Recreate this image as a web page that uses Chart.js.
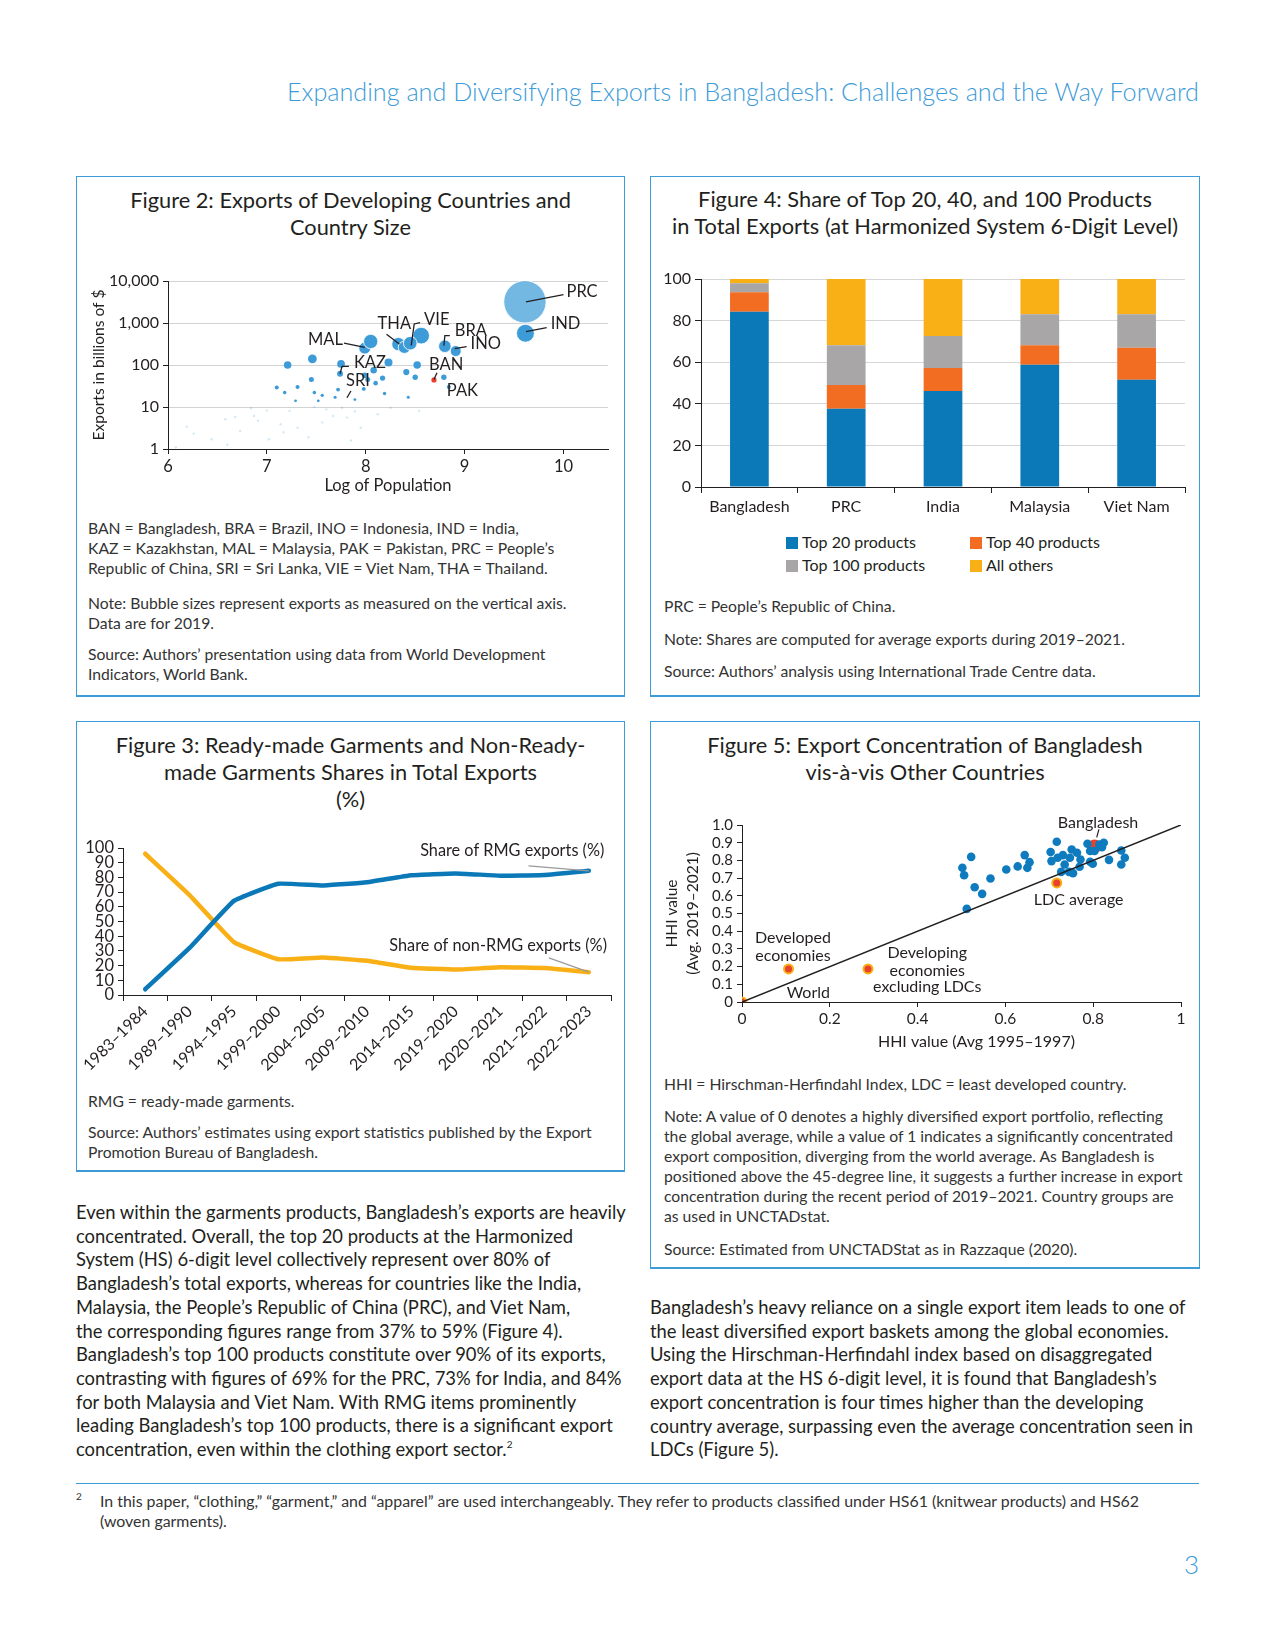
<!DOCTYPE html>
<html>
<head>
<meta charset="utf-8">
<script src="https://cdn.jsdelivr.net/npm/chart.js@4.4.1/dist/chart.umd.min.js"></script>
<style>
  body { margin: 0; background: #fff; }
  #page { position: relative; width: 1275px; height: 1650px; overflow: hidden; font-family: Lato, "Noto Sans", sans-serif; color: #231f20; }
  .box { position: absolute; box-sizing: border-box; border: 1px solid #3d9bd8; border-bottom-width: 2px; }
  .title { position: absolute; text-align: center; font-size: 21.8px; line-height: 27px; white-space: nowrap; }
  .note { position: absolute; font-size: 15.7px; line-height: 20px; color: #333; white-space: nowrap; }
  .body { position: absolute; font-size: 18.4px; line-height: 23.7px; white-space: nowrap; }
  .legend { position: absolute; font-size: 16px; line-height: 18px; white-space: nowrap; }
  .legend i { display: inline-block; width: 12px; height: 12px; margin-right: 4px; vertical-align: -1px; }
  canvas { position: absolute; }
</style>
</head>
<body>
<div id="page">
  <div style="position:absolute;right:76px;top:76px;font-size:25.2px;font-weight:300;color:#3d9bd8;white-space:nowrap;">Expanding and Diversifying Exports in Bangladesh: Challenges and the Way Forward</div>

  <!-- Figure 2 -->
  <div class="box" style="left:76px;top:176px;width:549px;height:521px;"></div>
  <div class="title" style="left:76px;top:186px;width:549px;">Figure 2: Exports of Developing Countries and<br>Country Size</div>
  <canvas id="fig2" width="554" height="262" style="left:77px;top:250px;"></canvas>
  <div class="note" style="left:88px;top:518px;">BAN = Bangladesh, BRA = Brazil, INO = Indonesia, IND = India,<br>KAZ = Kazakhstan, MAL = Malaysia, PAK = Pakistan, PRC = People’s<br>Republic of China, SRI = Sri Lanka, VIE = Viet Nam, THA = Thailand.</div>
  <div class="note" style="left:88px;top:593px;">Note: Bubble sizes represent exports as measured on the vertical axis.<br>Data are for 2019.</div>
  <div class="note" style="left:88px;top:644px;">Source: Authors’ presentation using data from World Development<br>Indicators, World Bank.</div>

  <!-- Figure 4 -->
  <div class="box" style="left:650px;top:176px;width:550px;height:521px;"></div>
  <div class="title" style="left:650px;top:185px;width:550px;">Figure 4: Share of Top 20, 40, and 100 Products<br>in Total Exports (at Harmonized System 6-Digit Level)</div>
  <canvas id="fig4" width="548" height="275" style="left:651px;top:250px;"></canvas>
  <div id="legend4"></div>
  <div class="note" style="left:664px;top:596px;">PRC = People’s Republic of China.</div>
  <div class="note" style="left:664px;top:629px;">Note: Shares are computed for average exports during 2019–2021.</div>
  <div class="note" style="left:664px;top:661px;">Source: Authors’ analysis using International Trade Centre data.</div>

  <!-- Figure 3 -->
  <div class="box" style="left:76px;top:721px;width:549px;height:451px;"></div>
  <div class="title" style="left:76px;top:731px;width:549px;">Figure 3: Ready-made Garments and Non-Ready-<br>made Garments Shares in Total Exports<br>(%)</div>
  <canvas id="fig3" width="546" height="265" style="left:77px;top:820px;"></canvas>
  <div class="note" style="left:88px;top:1091px;">RMG = ready-made garments.</div>
  <div class="note" style="left:88px;top:1122px;">Source: Authors’ estimates using export statistics published by the Export<br>Promotion Bureau of Bangladesh.</div>

  <!-- Figure 5 -->
  <div class="box" style="left:650px;top:721px;width:550px;height:548px;"></div>
  <div class="title" style="left:650px;top:731px;width:550px;">Figure 5: Export Concentration of Bangladesh<br>vis-à-vis Other Countries</div>
  <canvas id="fig5" width="548" height="268" style="left:651px;top:790px;"></canvas>
  <div class="note" style="left:664px;top:1074px;">HHI = Hirschman-Herfindahl Index, LDC = least developed country.</div>
  <div class="note" style="left:664px;top:1106px;">Note: A value of 0 denotes a highly diversified export portfolio, reflecting<br>the global average, while a value of 1 indicates a significantly concentrated<br>export composition, diverging from the world average. As Bangladesh is<br>positioned above the 45-degree line, it suggests a further increase in export<br>concentration during the recent period of 2019–2021. Country groups are<br>as used in UNCTADstat.</div>
  <div class="note" style="left:664px;top:1239px;">Source: Estimated from UNCTADStat as in Razzaque (2020).</div>

  <!-- body text -->
  <div class="body" style="left:76px;top:1201px;">Even within the garments products, Bangladesh’s exports are heavily<br>concentrated. Overall, the top 20 products at the Harmonized<br>System (HS) 6-digit level collectively represent over 80% of<br>Bangladesh’s total exports, whereas for countries like the India,<br>Malaysia, the People’s Republic of China (PRC), and Viet Nam,<br>the corresponding figures range from 37% to 59% (Figure 4).<br>Bangladesh’s top 100 products constitute over 90% of its exports,<br>contrasting with figures of 69% for the PRC, 73% for India, and 84%<br>for both Malaysia and Viet Nam. With RMG items prominently<br>leading Bangladesh’s top 100 products, there is a significant export<br>concentration, even within the clothing export sector.<span style="font-size:10px;position:relative;top:-8px;line-height:0;">2</span></div>
  <div class="body" style="left:650px;top:1296px;">Bangladesh’s heavy reliance on a single export item leads to one of<br>the least diversified export baskets among the global economies.<br>Using the Hirschman-Herfindahl index based on disaggregated<br>export data at the HS 6-digit level, it is found that Bangladesh’s<br>export concentration is four times higher than the developing<br>country average, surpassing even the average concentration seen in<br>LDCs (Figure 5).</div>

  <div style="position:absolute;left:76px;top:1483px;width:1123px;height:0;border-top:1.5px solid #3d9bd8;"></div>
  <div class="note" style="left:76px;top:1490px;font-size:10px;line-height:12px;">2</div>
  <div class="note" style="left:100px;top:1491px;font-size:15.9px;">In this paper, “clothing,” “garment,” and “apparel” are used interchangeably. They refer to products classified under HS61 (knitwear products) and HS62<br>(woven garments).</div>
  <div style="position:absolute;right:76px;top:1548px;font-size:26px;font-weight:300;color:#3d9bd8;">3</div>
</div>

<script>
// ---------- Figure 2: bubbles (log population vs exports, $ billion) ----------
const bubbleLogPop = [9.61, 9.615, 8.56, 8.33, 8.39, 8.45, 7.99, 8.05, 8.80, 8.91,
  7.21, 7.46, 7.75, 7.74, 8.23, 8.52, 8.08, 8.41, 7.99, 8.17, 8.50, 8.79, 7.45, 8.02, 8.10, 8.84,
  7.10, 7.31, 7.18, 7.48, 7.72, 7.98, 8.19, 8.43, 7.56, 7.69, 7.89, 7.29, 7.52,
  6.84, 7.00, 7.23, 7.48, 7.60, 7.76, 7.89, 8.12, 8.25, 8.54, 6.87, 6.68, 6.58, 6.91, 7.14,
  7.31, 7.56, 7.67, 7.81, 7.95, 6.73, 6.44, 6.26, 6.19, 6.60, 6.08, 7.42, 7.85, 7.17, 7.02];
const bubbleExports = [3190, 570, 500, 315, 263, 330, 252, 363, 280, 215,
  100, 140, 106, 62, 115, 100, 75, 68, 57, 49, 51, 51, 45, 45, 37, 30,
  29, 30, 22, 22, 26, 27, 21, 17, 19, 17, 15, 14, 14,
  9.3, 8.3, 8.1, 10, 8.8, 9.6, 7.8, 6.7, 9.6, 8.1, 6.1, 5.8, 5.1, 4.7, 3.9,
  3.2, 4.3, 6.1, 5.6, 3.2, 2.7, 1.7, 2.3, 3.4, 1.26, 1.1, 1.9, 1.6, 2.5, 1.7];
const banLogPop = [8.69];
const banExports = [44];
const expTicks = [1, 10, 100, 1000, 10000];

// label text and leader lines, in data units
const fig2Texts = [
  { text: 'PRC', x: 10.03, y: 5500 }, { text: 'IND', x: 9.87, y: 950 },
  { text: 'VIE', x: 8.59, y: 1180 }, { text: 'THA', x: 8.12, y: 950 },
  { text: 'BRA', x: 8.90, y: 650 }, { text: 'INO', x: 9.06, y: 330 },
  { text: 'MAL', x: 7.77, y: 400, align: 'right' }, { text: 'KAZ', x: 7.88, y: 115 },
  { text: 'SRI', x: 7.80, y: 43 }, { text: 'BAN', x: 8.64, y: 100 }, { text: 'PAK', x: 8.82, y: 24 }
];
const fig2Leaders = [
  [[9.62, 3190], [10.0, 4750]], [[9.62, 624], [9.83, 780]],
  [[8.46, 291], [8.49, 950], [8.55, 1020]], [[8.21, 540], [8.34, 315]],
  [[7.78, 330], [7.99, 262]], [[7.74, 62], [7.76, 93], [7.83, 93]],
  [[7.81, 16.6], [7.85, 24]], [[8.69, 45], [8.72, 65]],
  [[8.79, 290], [8.80, 500], [8.85, 500]], [[8.90, 245], [9.02, 275]]
];

// ---------- Figure 4: stacked shares ----------
const fig4Countries = ['Bangladesh', 'PRC', 'India', 'Malaysia', 'Viet Nam'];
const top20Share = [84.2, 37.6, 46.2, 58.8, 51.6];
const top40Share = [9.4, 11.4, 11.0, 9.4, 15.3];
const top100Share = [4.4, 19.2, 15.4, 14.9, 16.1];
const othersShare = [2.0, 31.8, 27.4, 16.9, 17.0];
const fig4Names = ['Top 20 products', 'Top 40 products', 'Top 100 products', 'All others'];
const fig4Colors = ['#0b79b8', '#f26c22', '#a8a6a7', '#f9b017'];

// ---------- Figure 3: RMG shares ----------
const periods = ['1983–1984', '1989–1990', '1994–1995', '1999–2000', '2004–2005', '2009–2010',
  '2014–2015', '2019–2020', '2020–2021', '2021–2022', '2022–2023'];
const rmgShare = [3.9, 32, 64, 75.7, 74.5, 76.7, 81.5, 82.7, 81.2, 81.7, 84.5];
const nonRmgShare = [96.1, 68, 36, 24.3, 25.5, 23.3, 18.5, 17.3, 18.8, 18.3, 15.5];

// ---------- Figure 5: HHI ----------
const hhiPast = [0.717, 0.703, 0.705, 0.719, 0.731, 0.735, 0.727, 0.745, 0.754, 0.751, 0.747, 0.763, 0.771,
  0.769, 0.787, 0.793, 0.793, 0.799, 0.814, 0.824, 0.820, 0.836, 0.864, 0.864, 0.872, 0.803,
  0.502, 0.506, 0.522, 0.530, 0.547, 0.566, 0.602, 0.628, 0.644, 0.650, 0.655, 0.512];
const hhiRecent = [0.905, 0.847, 0.796, 0.815, 0.830, 0.777, 0.735, 0.735, 0.728, 0.862, 0.815, 0.843, 0.805,
  0.764, 0.894, 0.853, 0.792, 0.781, 0.890, 0.900, 0.875, 0.803, 0.856, 0.777, 0.815, 0.853,
  0.758, 0.716, 0.820, 0.648, 0.611, 0.698, 0.749, 0.766, 0.830, 0.758, 0.790, 0.526];
const groupNames = ['World', 'Developed economies', 'Developing economies excluding LDCs', 'LDC average'];
const groupPast = [0, 0.106, 0.287, 0.717];
const groupRecent = [0, 0.187, 0.187, 0.673];
const bgdPast = [0.803];
const bgdRecent = [0.879];

Chart.defaults.font.family = "Lato, 'Noto Sans', sans-serif";
Chart.defaults.font.size = 16;
Chart.defaults.color = '#231f20';
Chart.defaults.animation = false;

const INK = '#231f20';
const fixW = w => s => { s.width = w; s.paddingTop = s.paddingBottom = 0; };
const fixH = h => s => { s.height = h; s.paddingLeft = s.paddingRight = 0; };

const annotate = {
  id: 'annotate',
  afterDatasetsDraw(chart, args, opts) {
    const { ctx } = chart;
    const x = chart.scales.x, y = chart.scales.y;
    ctx.save();
    (opts.lines || []).forEach(pts => {
      ctx.strokeStyle = opts.lineColor || INK;
      ctx.lineWidth = opts.lineWidth || 1.2;
      ctx.beginPath();
      pts.forEach((p, i) => {
        const px = x.getPixelForValue(p[0]), py = y.getPixelForValue(p[1]);
        if (i) ctx.lineTo(px, py); else ctx.moveTo(px, py);
      });
      ctx.stroke();
    });
    ctx.font = (opts.fontSize || 16) + "px Lato, 'Noto Sans', sans-serif";
    ctx.fillStyle = INK;
    ctx.textBaseline = 'middle';
    (opts.texts || []).forEach(t => {
      ctx.textAlign = t.align || 'left';
      ctx.fillText(t.text, x.getPixelForValue(t.x), y.getPixelForValue(t.y));
    });
    ctx.restore();
  }
};

// Figure 2
new Chart(document.getElementById('fig2'), {
  type: 'bubble',
  data: {
    datasets: [
      {
        data: bubbleLogPop.map((p, i) => ({ x: p, y: bubbleExports[i], r: Math.max(1.2, 0.375 * Math.sqrt(bubbleExports[i])) })),
        backgroundColor: c => {
          const v = c.raw ? c.raw.y : 0;
          if (v > 2000) return 'rgba(61,155,216,0.72)';
          if (v < 11) return 'rgba(61,155,216,0.22)';
          return '#3d9bd8';
        },
        borderColor: 'rgba(255,255,255,0.85)',
        borderWidth: c => (c.raw && c.raw.y > 150 ? 1 : 0)
      },
      {
        data: banLogPop.map((p, i) => ({ x: p, y: banExports[i], r: 2.6 })),
        backgroundColor: '#e8412c', borderWidth: 0
      }
    ]
  },
  options: {
    responsive: false, devicePixelRatio: 1,
    layout: { padding: { top: 31, right: 23, left: 0, bottom: 0 } },
    plugins: {
      legend: { display: false }, tooltip: { enabled: false },
      annotate: { texts: fig2Texts, lines: fig2Leaders, lineWidth: 1.3, fontSize: 16.5 }
    },
    scales: {
      x: {
        type: 'linear', min: 6, max: 10.45,
        afterFit: fixH(63),
        afterBuildTicks: s => { s.ticks = [6, 7, 8, 9, 10].map(v => ({ value: v })); },
        ticks: { padding: 3, font: { size: 16.5 } },
        grid: { drawOnChartArea: false, tickLength: 5, tickColor: INK },
        border: { color: INK },
        title: { display: true, text: 'Log of Population', font: { size: 16.5 }, padding: { top: 0, bottom: 16 } }
      },
      y: {
        type: 'logarithmic', min: 1, max: 10000,
        afterFit: fixW(91),
        afterBuildTicks: s => { s.ticks = expTicks.map(v => ({ value: v })); },
        ticks: { padding: 4, font: { size: 16 }, callback: v => v.toLocaleString('en-US') },
        grid: { color: '#d3d3d3', tickLength: 5, tickColor: INK },
        border: { color: INK },
        title: { display: true, text: 'Exports in billions of $', font: { size: 15.5 }, padding: { top: 13, bottom: 0 } }
      }
    }
  },
  plugins: [annotate]
});

// Figure 4
new Chart(document.getElementById('fig4'), {
  type: 'bar',
  data: {
    labels: fig4Countries,
    datasets: [top20Share, top40Share, top100Share, othersShare].map((d, i) => ({
      label: fig4Names[i], data: d, backgroundColor: fig4Colors[i],
      categoryPercentage: 0.8, barPercentage: 0.5
    }))
  },
  options: {
    responsive: false, devicePixelRatio: 1,
    layout: { padding: { top: 29, right: 14, left: 0, bottom: 0 } },
    plugins: { legend: { display: false }, tooltip: { enabled: false } },
    scales: {
      x: {
        stacked: true, afterFit: fixH(38),
        ticks: { padding: 4 },
        grid: { offset: true, drawOnChartArea: false, tickLength: 6, tickColor: INK },
        border: { color: INK }
      },
      y: {
        stacked: true, min: 0, max: 100, afterFit: fixW(50),
        ticks: { stepSize: 20, padding: 4 },
        grid: { color: '#d6d6d6', tickLength: 6, tickColor: INK },
        border: { color: INK }
      }
    }
  }
});

// legend for figure 4 (two columns)
const legendSlots = [[786, 533], [970, 533], [786, 556], [970, 556]];
document.getElementById('legend4').innerHTML = fig4Names.map((n, i) =>
  `<div class="legend" style="left:${legendSlots[i][0]}px;top:${legendSlots[i][1]}px;"><i style="background:${fig4Colors[i]}"></i>${n}</div>`
).join('');

// Figure 3
const last = periods.length - 1;
new Chart(document.getElementById('fig3'), {
  type: 'line',
  data: {
    labels: periods,
    datasets: [
      { label: 'Share of RMG exports (%)', data: rmgShare, borderColor: '#0b79b8' },
      { label: 'Share of non-RMG exports (%)', data: nonRmgShare, borderColor: '#f9b017' }
    ].map(d => Object.assign(d, { borderWidth: 4.5, pointRadius: 0, tension: 0.1, borderCapStyle: 'round', borderJoinStyle: 'round' }))
  },
  options: {
    responsive: false, devicePixelRatio: 1,
    layout: { padding: { top: 28, right: 12, left: 0, bottom: 0 } },
    plugins: {
      legend: { display: false }, tooltip: { enabled: false },
      annotate: {
        lineColor: '#9a9a9a', lineWidth: 1.3, fontSize: 16.3,
        lines: [[[last - 1.36, 87.8], [last, rmgShare[last]]], [[last - 0.9, 25.2], [last, nonRmgShare[last]]]],
        texts: [
          { text: 'Share of RMG exports (%)', x: last + 0.35, y: 98, align: 'right' },
          { text: 'Share of non-RMG exports (%)', x: last + 0.41, y: 33.5, align: 'right' }
        ]
      }
    },
    scales: {
      x: {
        offset: true, afterFit: fixH(90),
        ticks: { minRotation: 45, maxRotation: 45, padding: 1, autoSkip: false },
        grid: { offset: true, drawOnChartArea: false, tickLength: 6, tickColor: INK },
        border: { color: INK }
      },
      y: {
        min: 0, max: 100, afterFit: fixW(46),
        ticks: { stepSize: 10, padding: 4, autoSkip: false, font: { size: 16.5, lineHeight: 1 } },
        grid: { drawOnChartArea: false, tickLength: 5, tickColor: INK },
        border: { color: INK }
      }
    }
  },
  plugins: [annotate]
});

// Figure 5
const tick5 = v => (Math.abs(v) < 1e-9 ? '0' : Math.abs(v - 1) < 1e-9 ? '1' : v.toFixed(1));
new Chart(document.getElementById('fig5'), {
  type: 'scatter',
  data: {
    datasets: [
      { type: 'line', data: [{ x: 0, y: 0 }, { x: 1, y: 1 }], borderColor: INK, borderWidth: 1.6, pointRadius: 0 },
      { data: hhiPast.map((v, i) => ({ x: v, y: hhiRecent[i] })), backgroundColor: '#0e7bbf', pointRadius: 4.3, borderWidth: 0 },
      { data: groupPast.map((v, i) => ({ x: v, y: groupRecent[i] })), backgroundColor: '#e8412c', borderColor: '#f9b017', borderWidth: 2, pointRadius: 4.5 },
      { data: bgdPast.map((v, i) => ({ x: v, y: bgdRecent[i] })), backgroundColor: '#e8412c', pointRadius: 7, borderWidth: 0 }
    ]
  },
  options: {
    responsive: false, devicePixelRatio: 1,
    layout: { padding: { top: 35, right: 18, left: 0, bottom: 0 } },
    plugins: {
      legend: { display: false }, tooltip: { enabled: false },
      annotate: {
        lines: [[[0.808, 0.93], [0.813, 0.975]]],
        texts: [
          { text: 'Bangladesh', x: 0.811, y: 1.013, align: 'center' },
          { text: 'LDC average', x: 0.767, y: 0.578, align: 'center' },
          { text: 'Developed', x: 0.116, y: 0.361, align: 'center' },
          { text: 'economies', x: 0.116, y: 0.263, align: 'center' },
          { text: 'Developing', x: 0.422, y: 0.276, align: 'center' },
          { text: 'economies', x: 0.422, y: 0.176, align: 'center' },
          { text: 'excluding LDCs', x: 0.422, y: 0.083, align: 'center' },
          { text: 'World', x: 0.151, y: 0.049, align: 'center' },
          { text: 'HHI value (Avg 1995–1997)', x: 0.534, y: -0.223, align: 'center' }
        ]
      }
    },
    scales: {
      x: {
        type: 'linear', min: 0, max: 1, afterFit: fixH(56),
        ticks: { stepSize: 0.2, padding: 3, font: { size: 15.5 }, callback: tick5 },
        grid: { drawOnChartArea: false, tickLength: 5, tickColor: INK },
        border: { color: INK }
      },
      y: {
        type: 'linear', min: 0, max: 1, afterFit: fixW(91),
        ticks: { stepSize: 0.1, padding: 4, autoSkip: false, font: { size: 15, lineHeight: 1 },
          callback: v => (Math.abs(v) < 1e-9 ? '0' : v.toFixed(1)) },
        grid: { drawOnChartArea: false, tickLength: 5, tickColor: INK },
        border: { color: INK },
        title: { display: true, text: ['HHI value', '(Avg. 2019–2021)'], font: { size: 15.5, lineHeight: 1.35 }, padding: { top: 11, bottom: 0 } }
      }
    }
  },
  plugins: [annotate]
});
</script>
</body>
</html>
